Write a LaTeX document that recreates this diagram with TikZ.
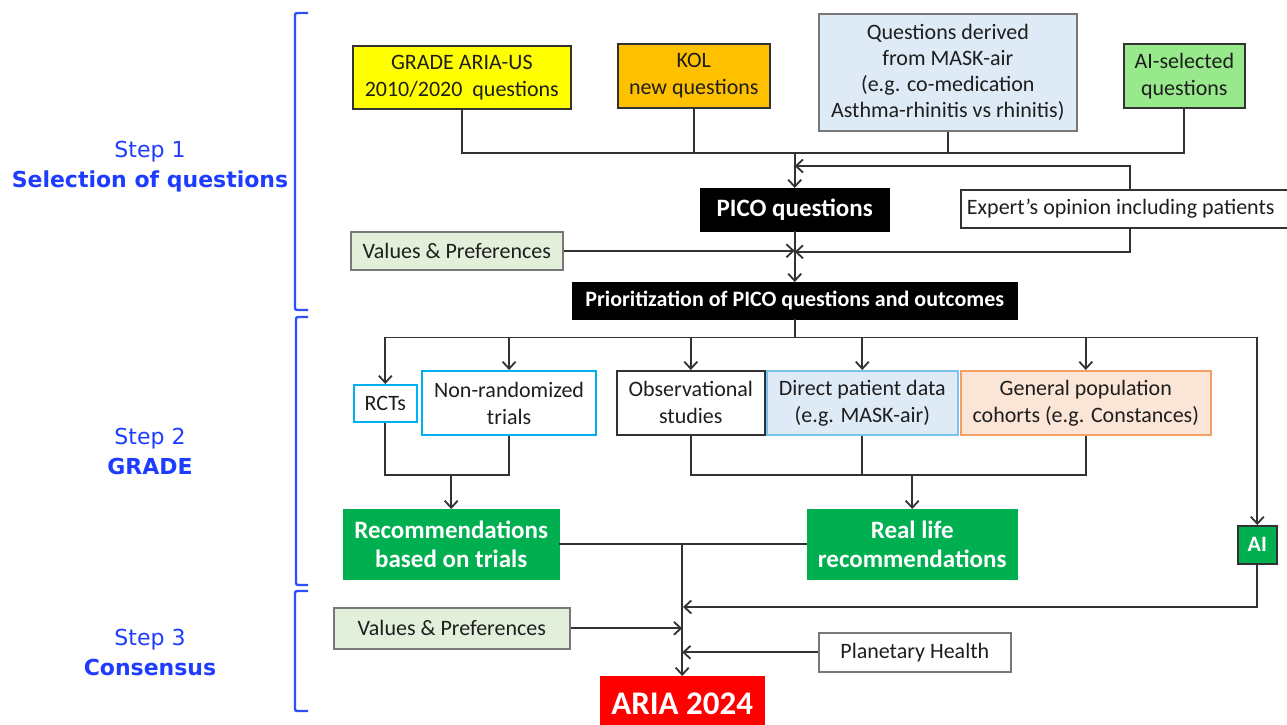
\documentclass[tikz,border=0pt]{standalone}
\usepackage{fontspec}
\setmainfont{Carlito}
\newfontfamily\stepfont{DejaVu Sans}
\usetikzlibrary{arrows.meta}
\definecolor{stepblue}{RGB}{30,60,255}
\definecolor{brblue}{RGB}{45,80,255}
\definecolor{txt}{RGB}{30,30,30}
\definecolor{ylw}{RGB}{255,255,0}
\definecolor{kolor}{RGB}{255,192,0}
\definecolor{maskfill}{RGB}{222,235,247}
\definecolor{aifill}{RGB}{152,232,140}
\definecolor{vpfill}{RGB}{226,239,218}
\definecolor{grn}{RGB}{0,176,80}
\definecolor{rcol}{RGB}{0,176,240}
\definecolor{dpborder}{RGB}{120,195,240}
\definecolor{genfill}{RGB}{251,229,214}
\definecolor{genborder}{RGB}{244,160,100}
\definecolor{darkline}{RGB}{50,50,50}
\definecolor{grayline}{RGB}{120,120,120}
\begin{document}
\begin{tikzpicture}[x=1pt,y=-1pt,
  box/.style={draw=darkline, line width=1.6pt, align=center, inner sep=1pt,
    anchor=north west, text=txt, font=\fontsize{22}{27}\selectfont},
  blackbox/.style={fill=black, draw=black, align=center, inner sep=1pt,
    anchor=north west, text=white},
  greenbox/.style={fill=grn, draw=grn, align=center, inner sep=1pt,
    anchor=north west, text=white, font=\bfseries\fontsize{25}{28.5}\selectfont},
  conn/.style={draw=darkline, line width=1.8pt},
  arr/.style={conn, -{Straight Barb[length=7pt,width=13pt]}},
  bracket/.style={draw=brblue, line width=2.4pt, rounded corners=2pt},
  steplbl/.style={text=stepblue, align=center, font=\stepfont\fontsize{22}{30}\selectfont}
]
\useasboundingbox (0,0) rectangle (1287,724);

% step brackets and labels
\draw[bracket] (308,13) -- (295,13) -- (295,310) -- (308,310);
\draw[bracket] (308,317) -- (296,317) -- (296,585) -- (308,585);
\draw[bracket] (308,591) -- (295,591) -- (295,711) -- (308,711);
\node[steplbl] (s1) at (150,167) {Step 1\\\textbf{Selection of questions}};
\node[steplbl] (s2) at (150,451) {Step 2\\\textbf{GRADE}};
\node[steplbl] (s3) at (150,652) {Step 3\\\textbf{Consensus}};

% step 1 boxes
\node[box, fill=ylw, minimum width=218pt, minimum height=63pt] (grade) at (352,45)
  {GRADE ARIA-US\\2010/2020\ \ questions};
\node[box, fill=kolor, minimum width=152pt, minimum height=64pt] (kol) at (617,43)
  {KOL\\new questions};
\node[box, draw=grayline, fill=maskfill, minimum width=258pt, minimum height=117pt,
  font=\fontsize{22}{26}\selectfont] (mask) at (818,13)
  {Questions derived\\from MASK-air\\(e.g. co-medication\\Asthma-rhinitis vs rhinitis)};
\node[box, fill=aifill, minimum width=121pt, minimum height=64pt] (aisel) at (1123,43)
  {AI-selected\\questions};
\node[blackbox, minimum width=189pt, minimum height=43pt, font=\bfseries\fontsize{25}{28}\selectfont] (pico) at (700,188)
  {PICO questions};
\node[box, fill=white, minimum width=332pt, minimum height=38pt] (expert) at (960,189)
  {Expert’s opinion including patients\hspace*{12pt}};
\node[box, draw=grayline, fill=vpfill, minimum width=212pt, minimum height=38pt] (vp1) at (350,231)
  {Values \& Preferences};
\node[blackbox, minimum width=445pt, minimum height=37pt, font=\bfseries\fontsize{22}{25}\selectfont] (prior) at (572,282)
  {Prioritization of PICO questions and outcomes};

% step 2 boxes
\node[box, draw=rcol, fill=white, minimum width=63pt, minimum height=37pt] (rct) at (353,384) {RCTs};
\node[box, draw=rcol, line width=2.2pt, fill=white, minimum width=174pt, minimum height=64pt] (nonrand) at (421,370)
  {Non-randomized\\trials};
\node[box, fill=white, minimum width=148pt, minimum height=64pt] (obs) at (616,370)
  {Observational\\studies};
\node[box, draw=dpborder, fill=maskfill, minimum width=191pt, minimum height=64pt] (direct) at (766,370)
  {Direct patient data\\(e.g. MASK-air)};
\node[box, draw=genborder, fill=genfill, minimum width=250pt, minimum height=64pt] (gen) at (960,370)
  {General population\\cohorts (e.g. Constances)};
\node[greenbox, minimum width=216pt, minimum height=70pt] (rectr) at (343,509)
  {Recommendations\\based on trials};
\node[greenbox, minimum width=210pt, minimum height=70pt] (real) at (807,509)
  {Real life\\recommendations};
\node[box, fill=grn, draw=darkline, text=white, minimum width=39pt, minimum height=38pt,
  font=\bfseries\fontsize{22}{24}\selectfont] (ai) at (1237,525) {AI};

% step 3 boxes
\node[box, draw=grayline, fill=vpfill, minimum width=236pt, minimum height=41pt] (vp2) at (333,607)
  {Values \& Preferences};
\node[box, draw=grayline, fill=white, minimum width=192pt, minimum height=39pt] (planet) at (818,632)
  {Planetary Health};
\node[blackbox, fill=red, draw=red, minimum width=164pt, minimum height=56pt,
  font=\bfseries\fontsize{33}{36}\selectfont] (aria) at (600,676) {ARIA 2024};

% coordinates of junctions
\path (pico.north) ++(0,-35) coordinate (topbus);
\coordinate (exline) at (1130,166);
\path (prior.south) ++(0,18) coordinate (bus2);
\coordinate (m1) at (600,475);
\coordinate (aibus) at (683,607);

% step 1 connectors
\draw[conn] (grade.south) |- (topbus -| aisel.south) -- (aisel.south);
\draw[conn] (kol.south) -- (kol.south |- topbus);
\draw[conn] (mask.south) -- (mask.south |- topbus);
\draw[arr] (topbus) -- (pico.north);
\draw[arr] (expert.north -| exline) |- (exline -| pico.north);
\draw[arr] (pico.south) -- (pico.south |- prior.north);
\draw[arr] (vp1.east) -- (vp1.east -| pico.south);
\draw[arr] (expert.south -| exline) |- ([yshift=-1pt]vp1.east -| pico.south);

% step 2 connectors
\draw[conn] (prior.south) -- (bus2);
\draw[arr] (bus2 -| rct.north) -- (bus2 -| ai.north) -- (ai.north);
\draw[arr] (bus2 -| rct.north) -- (rct.north);
\draw[arr] (bus2 -| nonrand.north) -- (nonrand.north);
\draw[arr] (bus2 -| obs.north) -- (obs.north);
\draw[arr] (bus2 -| direct.north) -- (direct.north);
\draw[arr] (bus2 -| gen.north) -- (gen.north);
\draw[conn] (rct.south) |- (m1 -| nonrand.south) -- (nonrand.south);
\draw[arr] (m1 -| rectr.north) -- (rectr.north);
\draw[conn] (obs.south) |- (m1 -| gen.south) -- (gen.south);
\draw[conn] (direct.south) -- (direct.south |- m1);
\draw[arr] (m1 -| real.north) -- (real.north);

% step 3 connectors
\draw[conn] (rectr.east) -- (real.west);
\draw[arr] (rectr.east -| aria.north) -- (aria.north);
\draw[arr] (ai.south) |- (aibus);
\draw[arr] (vp2.east) -- (vp2.east -| aria.north);
\draw[arr] (planet.west) -- (planet.west -| aria.north);
\end{tikzpicture}
\end{document}
